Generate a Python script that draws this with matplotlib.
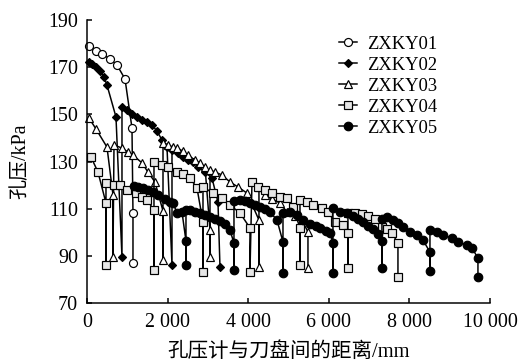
import matplotlib
matplotlib.use('Agg')
import matplotlib.pyplot as plt
from matplotlib.ticker import FixedLocator, FuncFormatter

# ---------------- data (distance mm, pore pressure kPa) ----------------
zxky01_d = [50, 223, 372, 571, 744, 943, 1116, 1141, 1141]
zxky01_p = [179.0, 176.9, 175.6, 173.5, 170.9, 165.0, 144.2, 108.2, 86.9]

zxky02_d = [50, 124, 223, 323, 422, 496, 719, 868,
            868, 992, 1116, 1240, 1365, 1489, 1613, 1737, 1861, 1985, 2109,
            2109, 2258, 2382, 2506, 2630, 2754, 2928, 3101, 3250, 3300]
zxky02_p = [172.2, 171.3, 170.1, 168.4, 165.8, 162.4, 148.9, 89.5,
            153.1, 151.8, 150.1, 148.9, 147.6, 146.7, 145.5, 142.9, 139.1, 136.1, 86.1,
            134.9, 133.6, 131.9, 130.6, 129.8, 127.7, 125.5, 123.0, 112.8, 85.2]

zxky03_d = [50, 223, 496, 645, 645,
            670, 868, 1017, 1141, 1365, 1513, 1687, 1886, 1886,
            1886, 2010, 2134, 2233, 2382, 2506, 2679, 2804, 2928, 3052, 3052,
            3052, 3176, 3349, 3548, 3746, 3970, 4267, 4267,
            4267, 4416, 4590, 4788, 4962, 5160, 5334, 5483, 5483]
zxky03_p = [148.4, 143.8, 136.1, 115.8, 89.5,
            137.0, 135.7, 134.0, 132.7, 129.4, 125.5, 121.3, 109.0, 88.2,
            137.9, 137.0, 136.1, 135.7, 134.4, 132.7, 130.6, 129.4, 127.7, 100.9, 89.5,
            126.4, 125.5, 124.3, 121.3, 119.2, 116.6, 105.2, 85.2,
            119.0, 115.8, 114.1, 112.4, 108.6, 106.9, 105.2, 100.1, 84.8]

zxky04_d = [99, 273, 471, 471,
            471, 670, 819, 992, 1216, 1365, 1489, 1662, 1662,
            1662, 1861, 2010, 2233, 2382, 2555, 2729, 2878, 2878,
            2878, 3126, 3349, 3548, 3796, 4044, 4044,
            4094, 4243, 4416, 4590, 4788, 4962, 5111, 5285, 5285,
            5285, 5458, 5607, 5830, 5979, 6153, 6351, 6475, 6475,
            6475, 6649, 6823, 6972, 7145, 7319, 7443, 7567, 7716, 7716]
zxky04_p = [131.9, 125.5, 112.4, 86.1,
            120.9, 120.0, 120.0, 117.9, 116.6, 114.9, 113.7, 109.4, 84.0,
            129.8, 128.5, 127.7, 125.5, 124.7, 123.0, 118.8, 104.3, 83.1,
            119.2, 116.6, 114.5, 111.5, 108.2, 101.8, 83.1,
            121.3, 119.2, 117.9, 116.6, 114.9, 114.5, 110.7, 101.8, 86.1,
            113.7, 112.8, 111.5, 110.3, 108.6, 104.3, 103.1, 99.7, 84.8,
            108.2, 108.2, 107.7, 106.9, 105.6, 102.2, 101.4, 99.7, 95.4, 81.0]

zxky05_d = [1166, 1265, 1389, 1513, 1637, 1762, 1935, 2059, 2134, 2233, 2357, 2456, 2456,
            2456, 2555, 2679, 2804, 2928, 3052, 3176, 3300, 3424, 3548, 3647, 3647,
            3647, 3796, 3920, 4044, 4168, 4292, 4416, 4540, 4714, 4863, 4863,
            4863, 5036, 5210, 5359, 5533, 5682, 5781, 5930, 6029, 6103, 6103,
            6103, 6277, 6451, 6600, 6724, 6848, 6972, 7096, 7220, 7319, 7319,
            7319, 7443, 7592, 7716, 7840, 8014, 8187, 8336, 8510, 8510,
            8510, 8684, 8832, 9056, 9205, 9428, 9552, 9701, 9701]
zxky05_p = [119.4, 119.2, 118.8, 117.9, 117.1, 115.8, 114.1, 112.8, 112.4, 108.2, 108.6, 96.3, 86.1,
            109.4, 109.4, 108.6, 108.2, 107.3, 106.5, 105.6, 104.8, 103.5, 100.9, 95.4, 84.0,
            113.2, 113.7, 113.2, 112.4, 111.5, 110.7, 109.8, 108.6, 105.2, 95.9, 82.7,
            108.2, 108.6, 107.3, 105.2, 103.5, 102.6, 101.8, 100.5, 99.7, 95.4, 82.7,
            110.3, 108.6, 108.2, 106.9, 105.6, 104.3, 102.6, 101.4, 99.2, 96.3, 84.8,
            105.6, 106.5, 105.2, 103.9, 102.2, 100.1, 98.8, 96.7, 91.6, 83.6,
            100.9, 100.1, 98.8, 97.5, 95.9, 94.6, 93.3, 89.1, 81.0]

labels = ['ZXKY01', 'ZXKY02', 'ZXKY03', 'ZXKY04', 'ZXKY05']
x_ticks = [0, 2000, 4000, 6000, 8000, 10000]
y_ticks = [70, 90, 110, 130, 150, 170, 190]
x_label = '孔压计与刀盘间的距离/mm'
y_label = '孔压/kPa'

# ---------------- plotting ----------------
plt.rcParams['font.family'] = ['Liberation Serif', 'Noto Sans CJK SC']

fig = plt.figure(figsize=(521 / 72, 364 / 72), dpi=72)
ax = fig.add_axes([87 / 521, 1 - 303 / 364, 403 / 521, 283 / 364])

styles = [
    dict(marker='o', mfc='white', ms=8),
    dict(marker='D', mfc='black', ms=6),
    dict(marker='^', mfc='white', ms=8),
    dict(marker='s', mfc='#e6e6e6', ms=7.5),
    dict(marker='o', mfc='black', ms=8.5),
]
series = [(zxky01_d, zxky01_p), (zxky02_d, zxky02_p), (zxky03_d, zxky03_p),
          (zxky04_d, zxky04_p), (zxky05_d, zxky05_p)]
for (d, p), st, lab in zip(series, styles, labels):
    ax.plot(d, p, color='black', lw=1.5, mec='black', mew=1.2, label=lab,
            clip_on=False, **st)

ax.set_xlim(0, 10000)
ax.set_ylim(70, 190)
ax.xaxis.set_major_locator(FixedLocator(x_ticks))
ax.yaxis.set_major_locator(FixedLocator(y_ticks))


def fmt(v, pos):
    v = int(round(v))
    if v >= 1000:
        return '{} {:03d}'.format(v // 1000, v % 1000)
    return str(v)


ax.xaxis.set_major_formatter(FuncFormatter(fmt))
for s in ['top', 'right']:
    ax.spines[s].set_visible(False)
for s in ['left', 'bottom']:
    ax.spines[s].set_linewidth(1.5)
ax.tick_params(direction='in', length=5, width=1.5, labelsize=20, colors='black')
ax.tick_params(axis='x', pad=10)
ax.tick_params(axis='y', pad=9)

ax.set_xlabel(x_label, fontsize=20.5, labelpad=10)
ax.set_ylabel(y_label, fontsize=20, labelpad=18)

leg = ax.legend(loc='upper left', bbox_to_anchor=(0.625, 0.945), frameon=False,
                fontsize=18.5, handlelength=1.0, handletextpad=0.5,
                labelspacing=0.22, borderpad=0, borderaxespad=0)

fig.savefig('out.png', dpi=72)
